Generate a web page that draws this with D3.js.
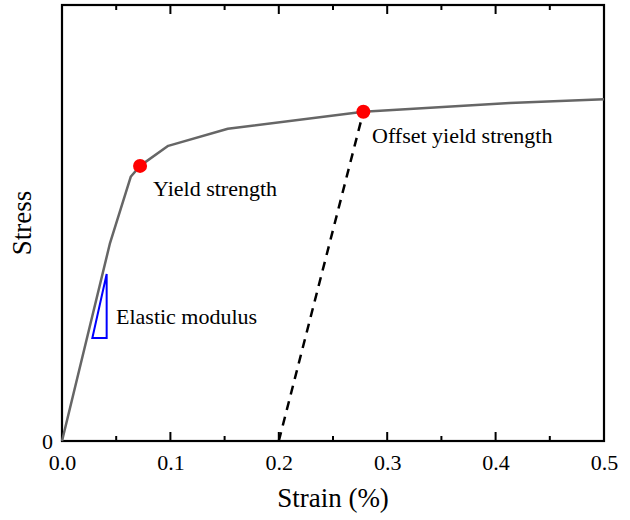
<!DOCTYPE html>
<html lang="en">
<head>
  <meta charset="utf-8">
  <title>Stress-strain curve</title>
  <script src="https://d3js.org/d3.v7.min.js"></script>
</head>
<body style="margin:0; background:#fff;">
<script>
// stress-strain curve (strain in %, stress in arbitrary units 0-100)
var curveStrain = [0, 0.0443, 0.0634, 0.072, 0.098, 0.153, 0.278, 0.413, 0.5];
var curveStress = [0, 45.4, 60.6, 63.1, 67.7, 71.6, 75.5, 77.5, 78.4];

// 0.2% offset line
var offsetStrain = [0.2, 0.278];
var offsetStress = [0, 75.5];

// marked points
var pointStrain = [0.072, 0.278];
var pointStress = [63.1, 75.5];

// elastic modulus triangle
var triStrain = [0.0412, 0.028, 0.0412];
var triStress = [38.3, 23.6, 23.6];

var majorTicks = [0, 0.1, 0.2, 0.3, 0.4, 0.5];
var minorTicks = [0.05, 0.15, 0.25, 0.35, 0.45];

var serif = "'Liberation Serif', 'Times New Roman', Times, serif";

var width = 630,
    height = 520;
var margin = {top: 5, right: 26, bottom: 79, left: 62};

var x = d3.scaleLinear()
  .domain([0, 0.5])
  .range([margin.left, width - margin.right]);

var y = d3.scaleLinear()
  .domain([0, 100])
  .range([height - margin.bottom, margin.top]);

var svg = d3.select("body").append("svg")
  .attr("width", width)
  .attr("height", height)
  .attr("font-family", serif);

// tick labels from the axes, tick marks drawn below
svg.append("g")
  .attr("transform", "translate(0," + y(0) + ")")
  .call(d3.axisBottom(x)
    .tickValues(majorTicks)
    .tickSize(0)
    .tickPadding(13)
    .tickFormat(d3.format(".1f")))
  .call(function(g) {
    g.attr("font-family", serif).attr("font-size", 22);
    g.select(".domain").remove();
    g.selectAll(".tick text").attr("fill", "#000");
  });

svg.append("g")
  .attr("transform", "translate(" + x(0) + ",0)")
  .call(d3.axisLeft(y).tickValues([0]).tickSize(0).tickPadding(9))
  .call(function(g) {
    g.attr("font-family", serif).attr("font-size", 22);
    g.select(".domain").remove();
    g.selectAll(".tick text").attr("fill", "#000");
  });

// inward ticks on bottom and top edges
function drawTicks(values, len, cls) {
  svg.selectAll("line." + cls + "-b")
    .data(values)
    .enter()
    .append("line")
    .attr("class", cls + "-b")
    .attr("x1", function(d) { return x(d); })
    .attr("x2", function(d) { return x(d); })
    .attr("y1", y(0))
    .attr("y2", y(0) - len)
    .attr("stroke", "#000")
    .attr("stroke-width", 2);

  svg.selectAll("line." + cls + "-t")
    .data(values)
    .enter()
    .append("line")
    .attr("class", cls + "-t")
    .attr("x1", function(d) { return x(d); })
    .attr("x2", function(d) { return x(d); })
    .attr("y1", y(100))
    .attr("y2", y(100) + len)
    .attr("stroke", "#000")
    .attr("stroke-width", 2);
}
drawTicks(majorTicks, 9, "major");
drawTicks(minorTicks, 5, "minor");

// frame
svg.append("rect")
  .attr("x", x(0))
  .attr("y", y(100))
  .attr("width", x(0.5) - x(0))
  .attr("height", y(0) - y(100))
  .attr("fill", "none")
  .attr("stroke", "#000")
  .attr("stroke-width", 2.2);

var line = d3.line()
  .x(function(d) { return x(d[0]); })
  .y(function(d) { return y(d[1]); });

// main curve
svg.append("path")
  .datum(d3.zip(curveStrain, curveStress))
  .attr("d", line)
  .attr("fill", "none")
  .attr("stroke", "#666")
  .attr("stroke-width", 2.5)
  .attr("stroke-linejoin", "round");

// offset line
svg.append("path")
  .datum(d3.zip(offsetStrain, offsetStress))
  .attr("d", line)
  .attr("fill", "none")
  .attr("stroke", "#000")
  .attr("stroke-width", 2.5)
  .attr("stroke-dasharray", "9,7");

// elastic triangle
svg.append("path")
  .datum(d3.zip(triStrain, triStress))
  .attr("d", function(d) { return line(d) + "Z"; })
  .attr("fill", "none")
  .attr("stroke", "#0000ff")
  .attr("stroke-width", 2);

// yield points
svg.selectAll("circle")
  .data(d3.zip(pointStrain, pointStress))
  .enter()
  .append("circle")
  .attr("cx", function(d) { return x(d[0]); })
  .attr("cy", function(d) { return y(d[1]); })
  .attr("r", 7)
  .attr("fill", "#ff0000");

// annotations
svg.append("text")
  .attr("x", 153).attr("y", 196)
  .attr("font-size", 22)
  .text("Yield strength");

svg.append("text")
  .attr("x", 372).attr("y", 143)
  .attr("font-size", 22)
  .text("Offset yield strength");

svg.append("text")
  .attr("x", 116).attr("y", 324)
  .attr("font-size", 22)
  .text("Elastic modulus");

// axis titles
svg.append("text")
  .attr("x", (x(0) + x(0.5)) / 2)
  .attr("y", 507)
  .attr("text-anchor", "middle")
  .attr("font-size", 27)
  .text("Strain (%)");

svg.append("text")
  .attr("transform", "translate(31," + (y(0) + y(100)) / 2 + ") rotate(-90)")
  .attr("text-anchor", "middle")
  .attr("font-size", 27)
  .text("Stress");
</script>
</body>
</html>
